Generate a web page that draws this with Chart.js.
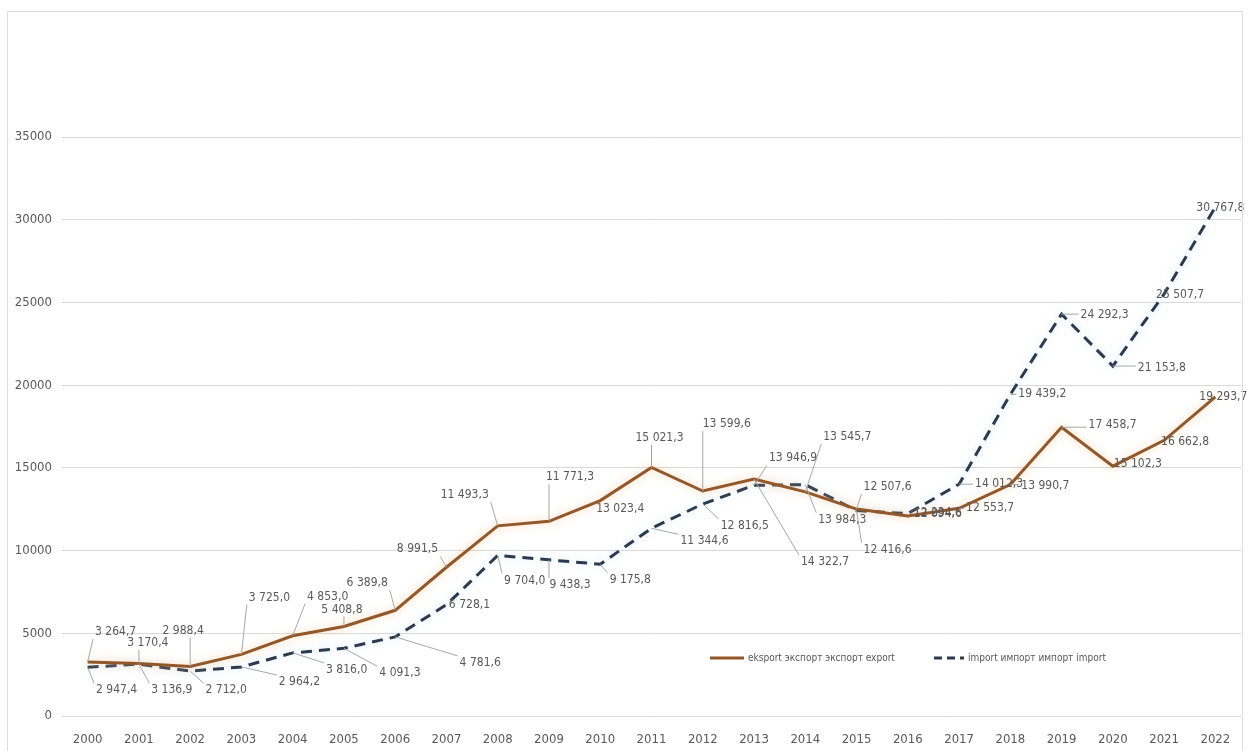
<!DOCTYPE html>
<html>
<head>
<meta charset="utf-8">
<script src="https://cdn.jsdelivr.net/npm/chart.js@4.4.1/dist/chart.umd.min.js"></script>
<style>
  body { margin: 0; background: #fff; }
  #wrap { position: relative; width: 1251px; height: 751px; }
  #frame { position: absolute; left: 7px; top: 11px; width: 1236px; height: 760px; border: 1px solid #dcdcdc; box-sizing: border-box; }
</style>
</head>
<body>
<div id="wrap">
  <div id="frame"></div>
  <canvas id="chart" width="1251" height="751"></canvas>
</div>
<script>
const years = ['2000', '2001', '2002', '2003', '2004', '2005', '2006', '2007', '2008', '2009', '2010', '2011',
    '2012', '2013', '2014', '2015', '2016', '2017', '2018', '2019', '2020', '2021', '2022'];
const exportValues = [3264.7, 3170.4, 2988.4, 3725.0, 4853.0, 5408.8, 6389.8, 8991.5, 11493.3, 11771.3, 13023.4, 15021.3,
    13599.6, 14322.7, 13545.7, 12507.6, 12094.6, 12553.7, 13990.7, 17458.7, 15102.3, 16662.8, 19293.7];
const importValues = [2947.4, 3136.9, 2712.0, 2964.2, 3816.0, 4091.3, 4781.6, 6728.1, 9704.0, 9438.3, 9175.8, 11344.6,
    12816.5, 13946.9, 13984.3, 12416.6, 12234.6, 14012.3, 19439.2, 24292.3, 21153.8, 25507.7, 30767.8];
const yTicks = [0, 5000, 10000, 15000, 20000, 25000, 30000, 35000];
const exportName = 'eksport экспорт экспорт export';
const importName = 'import импорт импорт import';

// where each data label sits, relative to its point (hand placed like in the original)
const exportLabelShift = [[28, -30], [9, -21], [-7, -36], [28, -57], [35, -39], [-2, -17], [-28, -27], [-29, -18],
    [-33, -31], [21, -44], [20, 8], [8, -30], [24, -67], [71, 83], [42, -55], [31, -22], [30, -2], [31, 0],
    [35, 1], [51, -2], [25, -2], [21, 2], [8, 0]];
const importLabelShift = [[29, 23], [33, 26], [36, 19], [58, 15], [54, 17], [56, 25], [85, 26], [23, 0],
    [27, 25], [21, 25], [30, 16], [53, 13], [42, 22], [39, -27], [37, 35], [31, 39], [30, -1], [40, 0],
    [32, -1], [43, 1], [49, 2], [16, 1], [5, 1]];

const fontName = "'Liberation Sans Narrow', 'DejaVu Sans Condensed', sans-serif";
const textColor = '#595959';
const exportColor = '#93582a';
const importColor = '#2b3a4f';

const formatValue = (v) => {
    const parts = v.toFixed(1).split('.');
    return parts[0].replace(/\B(?=(\d{3})+(?!\d))/g, ' ') + ',' + parts[1];
};

const glowPlugin = {
    id: 'glow',
    beforeDatasetDraw(chart, args) {
        const ctx = chart.ctx;
        ctx.save();
        ctx.shadowColor = args.index === 0 ? 'rgba(245, 190, 130, 0.7)' : 'rgba(170, 210, 240, 0.6)';
        ctx.shadowBlur = 8;
    },
    afterDatasetDraw(chart) {
        chart.ctx.restore();
    }
};

const labelPlugin = {
    id: 'pointLabels',
    afterDatasetsDraw(chart) {
        const ctx = chart.ctx;
        const shifts = [exportLabelShift, importLabelShift];
        ctx.save();
        ctx.font = '12px ' + fontName;
        ctx.textAlign = 'center';
        ctx.textBaseline = 'middle';
        chart.data.datasets.forEach((ds, di) => {
            const meta = chart.getDatasetMeta(di);
            meta.data.forEach((pt, i) => {
                const text = formatValue(ds.data[i]);
                const [dx, dy] = shifts[di][i];
                const tx = pt.x + dx;
                const ty = pt.y + dy;
                const w = ctx.measureText(text).width;
                const halfW = w / 2 + 2;
                const halfH = 7;
                // leader line when the point is outside the label box
                if (Math.abs(dx) > halfW + 4 || Math.abs(dy) > halfH + 4) {
                    const ex = Math.max(tx - halfW, Math.min(pt.x, tx + halfW));
                    const ey = Math.max(ty - halfH, Math.min(pt.y, ty + halfH));
                    ctx.strokeStyle = '#a6a6a6';
                    ctx.lineWidth = 1;
                    ctx.beginPath();
                    ctx.moveTo(pt.x, pt.y);
                    ctx.lineTo(ex, ey);
                    ctx.stroke();
                }
                ctx.fillStyle = textColor;
                ctx.fillText(text, tx, ty);
            });
        });
        ctx.restore();
    }
};

const legendPlugin = {
    id: 'innerLegend',
    afterDraw(chart) {
        const ctx = chart.ctx;
        const y = 658;
        ctx.save();
        ctx.lineWidth = 3;
        ctx.strokeStyle = exportColor;
        ctx.beginPath();
        ctx.moveTo(710, y);
        ctx.lineTo(744, y);
        ctx.stroke();
        ctx.strokeStyle = importColor;
        ctx.setLineDash([8, 5]);
        ctx.beginPath();
        ctx.moveTo(934, y);
        ctx.lineTo(964, y);
        ctx.stroke();
        ctx.setLineDash([]);
        ctx.font = '10px ' + fontName;
        ctx.fillStyle = textColor;
        ctx.textBaseline = 'middle';
        ctx.fillText(exportName, 748, y);
        ctx.fillText(importName, 968, y);
        ctx.restore();
    }
};

const data = {
    labels: years,
    datasets: [
        {
            label: exportName,
            data: exportValues,
            borderColor: exportColor,
            borderWidth: 3,
            pointRadius: 0,
            tension: 0,
            fill: false
        },
        {
            label: importName,
            data: importValues,
            borderColor: importColor,
            borderWidth: 3,
            borderDash: [11, 7],
            pointRadius: 0,
            tension: 0,
            fill: false
        }
    ]
};

const config = {
    type: 'line',
    data: data,
    options: {
        responsive: false,
        animation: false,
        layout: { padding: { top: 137, right: 10, bottom: 0, left: 0 } },
        plugins: {
            legend: { display: false },
            tooltip: { enabled: false }
        },
        scales: {
            x: {
                offset: true,
                grid: { display: false },
                border: { display: false },
                ticks: { color: textColor, font: { family: fontName, size: 13 }, padding: 8, maxRotation: 0 },
                afterFit: (scale) => { scale.height = 35; }
            },
            y: {
                min: 0,
                max: 35000,
                afterBuildTicks: (scale) => { scale.ticks = yTicks.map((v) => ({ value: v })); },
                grid: { color: '#d9d9d9', lineWidth: 1, drawTicks: false },
                border: { display: false },
                ticks: {
                    color: textColor,
                    font: { family: fontName, size: 13 },
                    padding: 10,
                    callback: (value) => String(value)
                },
                afterFit: (scale) => { scale.width = 62; }
            }
        }
    },
    plugins: [glowPlugin, labelPlugin, legendPlugin]
};

new Chart(document.getElementById('chart'), config);
</script>
</body>
</html>
